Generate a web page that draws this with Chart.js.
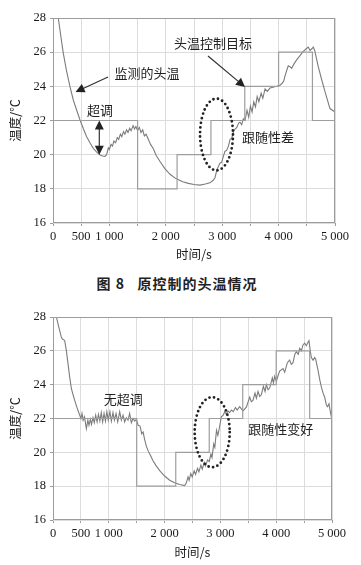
<!DOCTYPE html>
<html>
<head>
<meta charset="utf-8">
<script src="https://cdn.jsdelivr.net/npm/chart.js@4.4.1/dist/chart.umd.min.js"></script>
<style>
  html, body { margin: 0; padding: 0; background: #fff; }
  #page { position: relative; width: 361px; height: 565px; overflow: hidden; }
  .box { position: absolute; left: 0; width: 361px; }
  #caption {
    position: absolute; left: 0; top: 273px; width: 354px; text-align: center;
    font-family: "Noto Sans CJK SC", sans-serif; font-weight: bold; font-size: 14px;
    color: #222; letter-spacing: 1px;
  }
</style>
</head>
<body>
<div id="page">
  <div class="box" style="top:0;height:268px"><canvas id="top"></canvas></div>
  <div id="caption">图 8&nbsp;&nbsp;&nbsp;原控制的头温情况</div>
  <div class="box" style="top:298px;height:267px"><canvas id="bottom"></canvas></div>
</div>
<script>
// axis ticks
const xTickValues = [0, 500, 1000, 2000, 3000, 4000, 5000];
const xTickLabels = ['0', '500', '1 000', '2 000', '3 000', '4 000', '5 000'];
const yTickValues = [16, 18, 20, 22, 24, 26, 28];

// control target (step changes), same in both runs
const targetTimes = [0, 1500, 2200, 2800, 3400, 4000, 4600, 5000];
const targetTemps = [22, 18, 20, 22, 24, 26, 22, 22];

// measured head temperature, original control
const origTimes = [50, 94, 140, 183, 240, 301, 360, 420, 479, 540, 597, 655, 715, 775, 833, 880, 922, 950,
  981, 1000, 1030, 1055, 1080, 1110, 1140, 1165, 1195, 1220, 1250, 1275, 1305, 1330, 1360, 1385, 1420,
  1445, 1470, 1500, 1530, 1560, 1590, 1620, 1650, 1690, 1730, 1779, 1830, 1897, 1980, 2074, 2180, 2300,
  2400, 2500, 2606, 2700, 2783, 2840, 2872, 2905, 2931, 2960, 2990, 3020, 3050, 3079, 3110, 3140, 3168,
  3200, 3227, 3260, 3290, 3316, 3345, 3374, 3404, 3440, 3470, 3500, 3530, 3560, 3590, 3620, 3650, 3690,
  3720, 3760, 3800, 3847, 3900, 3966, 4020, 4054, 4090, 4113, 4150, 4172, 4200, 4231, 4270, 4320, 4380,
  4438, 4490, 4527, 4556, 4590, 4615, 4640, 4700, 4763, 4830, 4911, 5000];
const origTemps = [29.0, 28.0, 26.9, 25.93, 24.9, 23.98, 23.2, 22.6, 22.03, 21.5, 21.05, 20.7, 20.37, 20.15,
  19.98, 19.92, 19.9, 20.0, 20.4, 20.3, 20.6, 20.5, 20.8, 20.7, 21.0, 20.9, 21.2, 21.05, 21.35, 21.2,
  21.45, 21.3, 21.55, 21.4, 21.7, 21.5, 21.65, 21.4, 21.6, 21.3, 21.45, 21.1, 21.2, 20.9, 20.6, 20.35,
  19.95, 19.6, 19.2, 18.85, 18.6, 18.42, 18.32, 18.25, 18.22, 18.28, 18.35, 18.5, 18.65, 19.1, 19.3,
  19.5, 19.55, 19.9, 20.2, 20.25, 20.5, 20.9, 20.95, 21.35, 21.5, 21.6, 21.85, 21.9, 21.75, 22.1, 22.0,
  22.6, 22.2, 22.85, 22.5, 23.1, 22.8, 23.4, 23.1, 23.6, 23.3, 23.85, 23.7, 23.9, 23.95, 24.0, 24.05,
  24.15, 24.3, 24.6, 25.0, 25.2, 25.15, 25.05, 25.3, 25.55, 25.8, 26.05, 26.2, 26.3, 26.1, 26.2, 26.3,
  26.1, 25.2, 24.4, 23.6, 22.7, 22.5];

// measured head temperature, improved control
const newTimes = [40, 61, 90, 120, 150, 168, 195, 210, 240, 269, 299, 330, 360, 389, 420, 448, 478, 500,
  520, 540, 565, 598, 625, 645, 670, 690, 717, 740, 765, 790, 815, 840, 865, 890, 915, 940, 965, 990,
  1020, 1046, 1075, 1100, 1130, 1160, 1195, 1225, 1255, 1285, 1315, 1345, 1374, 1404, 1434, 1465, 1494,
  1525, 1560, 1590, 1615, 1640, 1670, 1703, 1750, 1792, 1850, 1912, 2000, 2091, 2180, 2270, 2360, 2390,
  2420, 2440, 2470, 2495, 2530, 2555, 2590, 2615, 2650, 2675, 2710, 2735, 2770, 2800, 2830, 2850, 2880,
  2900, 2930, 2955, 2990, 3017, 3050, 3077, 3105, 3136, 3165, 3196, 3230, 3270, 3300, 3345, 3405, 3465,
  3525, 3555, 3584, 3620, 3645, 3674, 3704, 3734, 3770, 3800, 3823, 3853, 3883, 3930, 3950, 3973, 4003,
  4040, 4062, 4122, 4152, 4200, 4241, 4270, 4301, 4335, 4361, 4395, 4421, 4451, 4480, 4510, 4540, 4570,
  4588, 4610, 4630, 4660, 4690, 4708, 4750, 4780, 4810, 4840, 4869, 4899, 4920, 4946, 4970, 4989, 5000];
const newTemps = [28.8, 28.0, 27.6, 27.2, 26.8, 26.7, 26.65, 26.6, 26.0, 25.24, 24.45, 23.76, 23.4, 23.07,
  22.75, 22.47, 22.2, 22.0, 22.3, 21.9, 22.1, 21.4, 21.9, 21.6, 21.95, 21.65, 22.05, 21.75, 22.2, 21.8,
  22.25, 21.85, 22.35, 21.8, 22.3, 21.85, 22.4, 21.9, 22.4, 21.85, 22.35, 21.9, 22.3, 21.8, 22.4, 21.9,
  22.2, 21.8, 22.05, 21.9, 22.3, 21.75, 22.0, 21.85, 21.95, 21.6, 21.55, 21.1, 21.2, 20.8, 20.4, 20.1,
  19.8, 19.5, 19.2, 18.92, 18.6, 18.35, 18.2, 18.1, 18.03, 18.2, 18.55, 18.35, 18.75, 18.55, 18.9, 18.7,
  19.05, 18.85, 19.25, 19.0, 19.4, 19.2, 19.55, 19.45, 19.9, 19.7, 20.5, 20.3, 21.3, 21.0, 21.6, 22.1,
  22.2, 22.4, 22.25, 22.45, 22.35, 22.5, 22.4, 22.65, 22.5, 22.7, 22.45, 22.67, 23.26, 23.0, 23.07,
  23.5, 23.2, 23.6, 23.3, 23.4, 23.9, 23.6, 24.0, 23.7, 23.8, 24.4, 24.1, 24.5, 24.2, 24.6, 24.8, 24.95,
  24.74, 25.3, 25.45, 25.2, 25.3, 25.8, 25.95, 25.8, 26.15, 26.0, 26.35, 26.45, 26.3, 26.5, 26.6, 26.0,
  25.6, 25.45, 25.6, 25.5, 24.85, 24.3, 23.85, 23.5, 23.26, 22.8, 22.7, 22.87, 22.4, 22.1, 21.9];

// annotations, placed in data units
const topNotes = [
  { kind: 'text', t: 1667, v: 24.78, text: '监测的头温' },
  { kind: 'arrow', from: [975, 24.55], to: [400, 23.67] },
  { kind: 'text', t: 833, v: 22.6, text: '超调' },
  { kind: 'double', t: 821, v1: 22, v2: 20 },
  { kind: 'text', t: 2837, v: 26.54, text: '头温控制目标' },
  { kind: 'arrow', from: [2748, 25.78], to: [3404, 23.96] },
  { kind: 'ellipse', t: 2899, v: 21.18, rt: 292, rv: 2.1 },
  { kind: 'text', t: 3812, v: 21.03, text: '跟随性差' }
];
const bottomNotes = [
  { kind: 'text', t: 1258, v: 23.12, text: '无超调' },
  { kind: 'ellipse', t: 2853, v: 21.19, rt: 314, rv: 2.07 },
  { kind: 'text', t: 4080, v: 21.4, text: '跟随性变好' }
];

const CJK = '"Noto Sans CJK SC", sans-serif';

function toPoints(times, temps) {
  return times.map((t, i) => ({ x: t, y: temps[i] }));
}

function headAt(ctx, x, y, ang, size) {
  ctx.beginPath();
  ctx.moveTo(x, y);
  ctx.lineTo(x - size * Math.cos(ang) + size * 0.5 * Math.sin(ang), y - size * Math.sin(ang) - size * 0.5 * Math.cos(ang));
  ctx.lineTo(x - size * Math.cos(ang) - size * 0.5 * Math.sin(ang), y - size * Math.sin(ang) + size * 0.5 * Math.cos(ang));
  ctx.closePath();
  ctx.fill();
}

const notesPlugin = {
  id: 'notes',
  afterDatasetsDraw(chart, args, opts) {
    const { ctx, chartArea: a, scales: { x, y } } = chart;
    ctx.save();
    // frame round the plot
    ctx.strokeStyle = '#9c9c9c';
    ctx.lineWidth = 1;
    ctx.strokeRect(a.left + 0.5, a.top + 0.5, a.width - 1, a.height - 1);

    ctx.fillStyle = '#222';
    ctx.strokeStyle = '#333';
    for (const n of opts.items) {
      if (n.kind === 'text') {
        ctx.font = '13px ' + CJK;
        ctx.textAlign = 'center';
        ctx.textBaseline = 'middle';
        ctx.fillStyle = '#222';
        ctx.fillText(n.text, x.getPixelForValue(n.t), y.getPixelForValue(n.v));
      } else if (n.kind === 'arrow') {
        const x1 = x.getPixelForValue(n.from[0]), y1 = y.getPixelForValue(n.from[1]);
        const x2 = x.getPixelForValue(n.to[0]), y2 = y.getPixelForValue(n.to[1]);
        const ang = Math.atan2(y2 - y1, x2 - x1);
        ctx.lineWidth = 1.2;
        ctx.beginPath();
        ctx.moveTo(x1, y1);
        ctx.lineTo(x2 - 6 * Math.cos(ang), y2 - 6 * Math.sin(ang));
        ctx.stroke();
        headAt(ctx, x2, y2, ang, 9);
      } else if (n.kind === 'double') {
        const px = x.getPixelForValue(n.t);
        const y1 = y.getPixelForValue(n.v1), y2 = y.getPixelForValue(n.v2);
        ctx.lineWidth = 1.2;
        ctx.beginPath();
        ctx.moveTo(px, y1 + 6);
        ctx.lineTo(px, y2 - 6);
        ctx.stroke();
        headAt(ctx, px, y1, -Math.PI / 2, 9);
        headAt(ctx, px, y2, Math.PI / 2, 9);
      } else if (n.kind === 'ellipse') {
        const cx = x.getPixelForValue(n.t), cy = y.getPixelForValue(n.v);
        const rx = Math.abs(x.getPixelForValue(n.t + n.rt) - cx);
        const ry = Math.abs(y.getPixelForValue(n.v + n.rv) - cy);
        ctx.lineWidth = 2.8;
        ctx.lineCap = 'round';
        ctx.setLineDash([0, 4.6]);
        ctx.strokeStyle = '#222';
        ctx.beginPath();
        ctx.ellipse(cx, cy, rx, ry, 0, 0, Math.PI * 2);
        ctx.stroke();
        ctx.setLineDash([]);
        ctx.lineCap = 'butt';
        ctx.strokeStyle = '#333';
      }
    }
    ctx.restore();
  }
};

function makeChart(id, times, temps, notes, pad) {
  const tickFont = { family: '"Liberation Serif", serif', size: 12.5 };
  return new Chart(document.getElementById(id), {
    type: 'line',
    data: {
      datasets: [
        {
          label: '头温控制目标',
          data: toPoints(targetTimes, targetTemps),
          stepped: 'before',
          borderColor: '#9e9e9e',
          borderWidth: 1.2,
          pointRadius: 0
        },
        {
          label: '监测的头温',
          data: toPoints(times, temps),
          borderColor: '#7c7c7c',
          borderWidth: 1.1,
          pointRadius: 0,
          tension: 0
        }
      ]
    },
    options: {
      responsive: true,
      maintainAspectRatio: false,
      animation: false,
      events: [],
      layout: { padding: { top: pad.top, right: pad.right, left: 0, bottom: 0 } },
      plugins: {
        legend: { display: false },
        tooltip: { enabled: false },
        notes: { items: notes }
      },
      scales: {
        x: {
          type: 'linear',
          min: 0,
          max: 5000,
          afterFit: (s) => { s.height = pad.xHeight; },
          afterBuildTicks: (s) => {
            const ticks = [];
            for (let v = 0; v <= 5000; v += 500) ticks.push({ value: v });
            s.ticks = ticks;
          },
          ticks: {
            autoSkip: false,
            maxRotation: 0,
            padding: 3,
            color: '#1a1a1a',
            font: tickFont,
            callback: (v) => {
              const i = xTickValues.indexOf(v);
              return i < 0 ? '' : xTickLabels[i];
            }
          },
          grid: { color: '#dcdcdc', tickLength: 3, tickColor: '#9c9c9c' },
          border: { display: false },
          title: {
            display: true,
            text: '时间/s',
            color: '#1a1a1a',
            font: { family: CJK, size: 12.5 },
            padding: { top: 0, bottom: pad.xTitle }
          }
        },
        y: {
          min: 16,
          max: 28,
          afterFit: (s) => { s.width = 53; },
          afterBuildTicks: (s) => { s.ticks = yTickValues.map((v) => ({ value: v })); },
          ticks: { padding: 4, color: '#1a1a1a', font: tickFont },
          grid: { color: '#dcdcdc', tickLength: 3, tickColor: '#9c9c9c' },
          border: { display: false },
          title: {
            display: true,
            text: '温度/℃',
            color: '#1a1a1a',
            font: { family: CJK, size: 12.5 },
            padding: { top: 8, bottom: 0 }
          }
        }
      }
    },
    plugins: [notesPlugin]
  });
}

makeChart('top', origTimes, origTemps, topNotes, { top: 18, right: 26, xHeight: 45, xTitle: 6 });
makeChart('bottom', newTimes, newTemps, bottomNotes, { top: 19, right: 29, xHeight: 45, xTitle: 5 });
</script>
</body>
</html>
